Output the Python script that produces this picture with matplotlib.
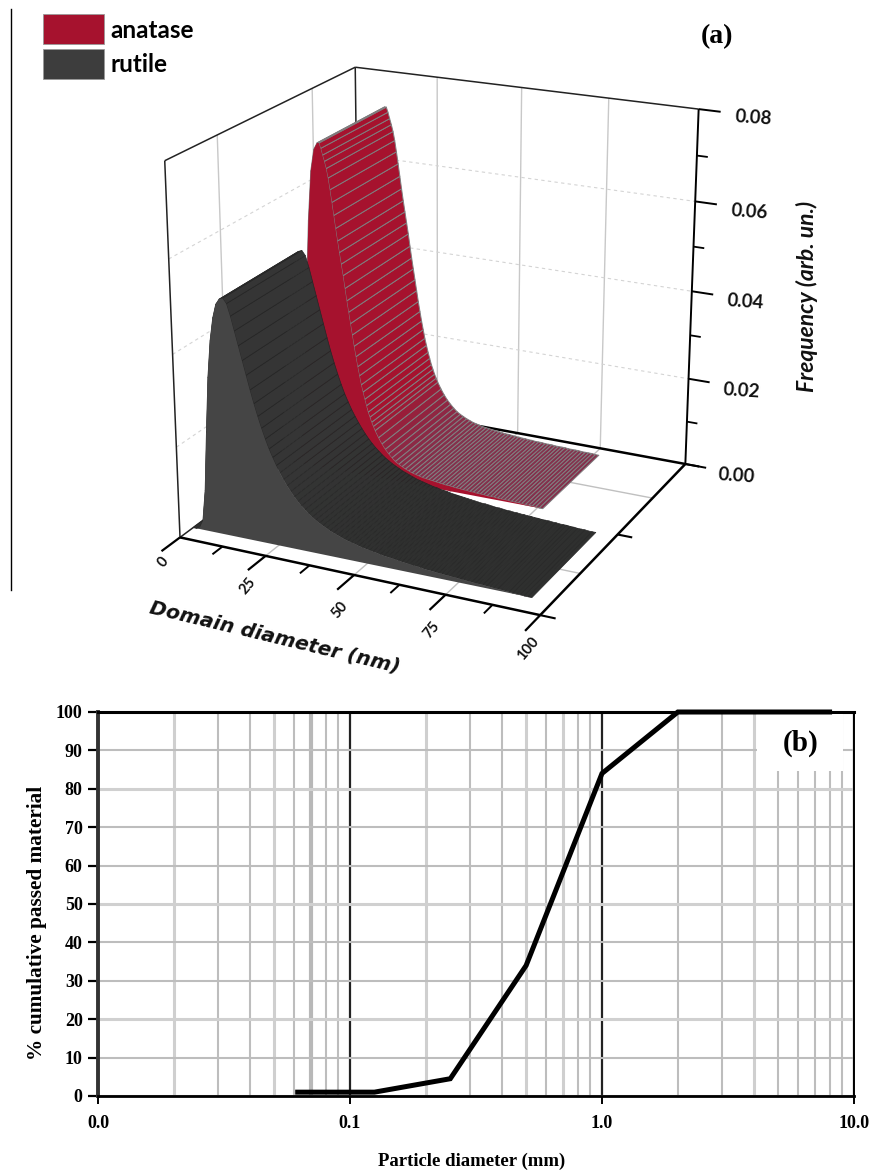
import numpy as np
import matplotlib
matplotlib.use("Agg")
import matplotlib.pyplot as plt
from matplotlib.colors import to_rgb
from matplotlib.patches import Rectangle
from matplotlib.lines import Line2D
from matplotlib.ticker import FixedLocator, FixedFormatter, NullFormatter
from mpl_toolkits.mplot3d.art3d import Poly3DCollection

# panel (a), domain size distributions
rutile_freq = [0, 0, .0003, .002, .009, .022, .034, .042, .047, .05,
               .0512, .0515, .0505, .048, .045, .042, .039, .036, .033, .0302,
               .0276, .0252, .023, .021, .0193, .0177, .0163, .015, .0138, .0127,
               .0117, .0108, .01, .0093, .0086, .008, .0075, .007, .0066, .0062,
               .0058, .0055, .0052, .0049, .0046, .0044, .0042, .004, .0038, .0036,
               .0035, .0033, .0032, .0031, .0029, .0028, .0027, .0026, .0025, .0024,
               .0023, .0022, .0021, .002, .002, .0019, .0018, .0017, .0017, .0016,
               .0015, .0015, .0014, .0014, .0013, .0013, .0012, .0012, .0011, .0011,
               .001, .001, .001, .0009, .0009, .0008, .0008, .0008, .0007, .0007,
               .0006, .0006, .0006, .0005, .0005, .0005]
anatase_diam = [0, 1, 2, 3, 4, 5, 6, 7, 8, 9, 10, 11, 12, 12.5, 13, 13.5, 14, 14.5, 15, 15.5,
                16, 16.5, 17, 17.5, 18, 18.5, 19, 19.5, 20, 20.5, 21, 21.5, 22, 22.5, 23, 23.5,
                24, 24.5, 25, 25.5, 26, 26.5, 27, 27.5, 28, 29, 30, 31, 32, 33, 34, 35, 36, 37,
                38, 39, 40, 41, 42, 43, 44, 45, 46, 47, 48, 49, 50, 51, 52, 53, 54, 55, 56, 57,
                58, 59, 60, 61, 62, 63, 64, 65, 66, 67, 68, 69, 70, 71, 72, 73, 74, 75, 76, 77]
anatase_freq = [0, 0, 0, .0001, .0005, .002, .0075, .02, .039, .056, .067, .0718,
                .0733, .0733, .0722, .0708, .0695, .068, .066, .0635, .0608, .058, .0552, .0525,
                .05, .0475, .045, .0422, .0395, .037, .0345, .032, .0295, .0272, .025, .023,
                .021, .0194, .0178, .0164, .015, .0139, .0128, .0119, .011, .0095, .0082, .0071,
                .0062, .0054, .0047, .0042, .0038, .0034, .0031, .0028, .0026, .0024, .0022, .0021,
                .002, .0019, .0018, .0017, .0016, .0015, .0015, .0014, .0013, .0013, .0012, .0012,
                .0011, .0011, .001, .001, .001, .0009, .0009, .0009, .0008, .0008, .0008, .0008,
                .0007, .0007, .0007, .0007, .0006, .0006, .0006, .0006, .0005, .0005]
rutile_depth = [.065, .475]
anatase_depth = [.55, .94]
diam_ticks = [0, 25, 50, 75, 100]
diam_minor = [12.5, 37.5, 62.5, 87.5]
depth_grid = [.25, .75]
freq_ticks = [0, .02, .04, .06, .08]
freq_minor = [.01, .03, .05, .07]

# panel (b), sieve curve
size_mm = [0.062, 0.125, 0.25, 0.5, 1.0, 2.0, 4.0, 8.0]
passed = [1, 1, 4.5, 34, 84, 100, 100, 100]
size_ticks = [0.01, 0.1, 1, 10]
size_labels = ["0.0", "0.1", "1.0", "10.0"]
size_minor = [.02, .03, .04, .05, .06, .07, .08, .09, .2, .3, .4, .5, .6, .7, .8, .9,
              2, 3, 4, 5, 6, 7, 8, 9]
pct_ticks = list(range(0, 101, 10))

W, H = 870, 1172
fig = plt.figure(figsize=(W/100, H/100), dpi=100, facecolor="white")
SANS = "Lato"
SERIF = "Liberation Serif"


def ptext(x, y, s, **kw):
    kw.setdefault("ha", "center")
    kw.setdefault("va", "center")
    fig.text(x/W, 1-y/H, s, **kw)


# ---- panel a
ax = fig.add_axes([81.7/W, 1-681.2/H, 700/W, 700/H], projection="3d", computed_zorder=False)
ax.set_proj_type("persp", focal_length=0.652)
ax.view_init(elev=20.344, azim=-64.426)
ax.set_box_aspect((1, .995, 1), zoom=.934)
ax.set_xlim(0, 100)
ax.set_ylim(0, 1)
ax.set_zlim(0, .08)
ax.set_axis_off()
ax.patch.set_alpha(0)


def seg(xs, ys, zs, **kw):
    ax.plot(xs, ys, zs, solid_capstyle="butt", **kw)


# walls and floor
for v in diam_ticks[1:-1]:
    seg([v, v], [1, 1], [0, .08], color="#c8c8c8", lw=1, zorder=1)
    seg([v, v], [0, 1], [0, 0], color="#c0c0c0", lw=1, zorder=1)
for v in depth_grid:
    seg([0, 0], [v, v], [0, .08], color="#c8c8c8", lw=1, zorder=1)
    seg([0, 100], [v, v], [0, 0], color="#c0c0c0", lw=1, zorder=1)
for v in freq_ticks[1:-1]:
    seg([0, 0], [0, 1], [v, v], color="#d4d4d4", lw=.8, ls=(0, (3, 3)), zorder=1)
    seg([0, 100], [1, 1], [v, v], color="#d4d4d4", lw=.8, ls=(0, (3, 3)), zorder=1)
seg([0, 0], [0, 0], [0, .08], color="#222222", lw=1.1, zorder=1)
seg([0, 0], [0, 1], [.08, .08], color="#222222", lw=1.1, zorder=1)
seg([0, 100], [1, 1], [.08, .08], color="#222222", lw=1.1, zorder=1)
seg([0, 0], [1, 1], [0, .08], color="#222222", lw=1.1, zorder=1)
seg([0, 0], [0, 1], [0, 0], color="#222222", lw=1.1, zorder=1)
seg([0, 100], [1, 1], [0, 0], color="black", lw=1.8, zorder=2)


def ridge(diam, freq, depth, top, tail, edge, side, lw, z):
    xs = np.array(diam)
    zs = np.array(freq)
    X = np.vstack([xs, xs])
    Y = np.vstack([np.full(len(xs), depth[0]), np.full(len(xs), depth[1])])
    Z = np.vstack([zs, zs])
    surf = ax.plot_surface(X, Y, Z, rstride=1, cstride=1, color=top, edgecolor=edge,
                           linewidth=lw, shade=False, zorder=z)
    # the low tail of the strip fades to a greyer colour
    mix = np.clip((.014-zs[1:])/.012, 0, 1)[:, None]
    surf.set_facecolor((1-mix)*np.array(to_rgb(top)) + mix*np.array(to_rgb(tail)))
    near = Poly3DCollection([list(zip(xs, np.full(len(xs), depth[0]), zs))],
                            facecolor=side, edgecolor="none", zorder=z+1)
    ax.add_collection3d(near)


ridge(anatase_diam, anatase_freq, anatase_depth, "#a6122e", "#84304c", "#7f7f80", "#a6122e", .7, 3)
ridge(range(len(rutile_freq)), rutile_freq, rutile_depth, "#353535", "#2f302f", "#262626", "#454545", .5, 5)

# front axes and ticks
seg([0, 100], [0, 0], [0, 0], color="black", lw=1.8, zorder=8)
seg([100, 100], [0, 1], [0, 0], color="black", lw=1.8, zorder=8)
seg([100, 100], [1, 1], [0, .08], color="black", lw=1.4, zorder=8)
for v in diam_ticks:
    seg([v, v], [0, -.09], [0, 0], color="black", lw=1.6, zorder=8)
for v in diam_minor:
    seg([v, v], [0, -.05], [0, 0], color="black", lw=1.4, zorder=8)
for v in [0, .5, 1]:
    seg([100, 104], [v, v], [0, 0], color="black", lw=1.5, zorder=8)
for v in freq_ticks:
    seg([100, 106], [1, 1], [v, v], color="black", lw=1.4, zorder=8)
for v in freq_minor:
    seg([100, 103], [1, 1], [v, v], color="black", lw=1.3, zorder=8)

# labels of panel a, placed on the page
tick_px = [(163, 562), (248, 586), (340, 610), (432, 630), (528, 649)]
for (x, y), v in zip(tick_px, diam_ticks):
    ptext(x, y, str(v), family=SANS, weight="bold", fontsize=10.5, rotation=50, color="#111111")
ptext(275, 637, "Domain diameter (nm)", family="DejaVu Sans", weight="bold", style="italic",
      fontsize=14.5, rotation=-13.5, color="#111111")
ptext(807, 296, "Frequency (arb. un.)", family=SANS, weight="bold", style="italic",
      fontsize=16.5, rotation=90, color="#111111")
for (x, y), v in zip([(736, 476), (741, 391), (745, 302), (749, 212), (753, 118)], freq_ticks):
    ptext(x, y, f"{v:.2f}", family=SANS, weight="bold", fontsize=13.5, rotation=-4, color="#111111")

fig.add_artist(Rectangle((43/W, 1-44/H), 61/W, 30/H, facecolor="#a6122e", edgecolor="#999999", lw=.6))
fig.add_artist(Rectangle((43/W, 1-79/H), 61/W, 30/H, facecolor="#3d3d3d", edgecolor="#999999", lw=.6))
ptext(110, 31, "anatase", ha="left", family=SANS, weight="bold", fontsize=17.5)
ptext(110, 64, "rutile", ha="left", family=SANS, weight="bold", fontsize=17.5)
ptext(717, 37, "(a)", family=SERIF, weight="bold", fontsize=20)
fig.add_artist(Line2D([11.5/W, 11.5/W], [1-9/H, 1-590/H], color="black", lw=1))

# ---- panel b
ax2 = fig.add_axes([98/W, 1-1096/H, (854-98)/W, (1096-712)/H])
ax2.set_xscale("log")
ax2.set_xlim(0.01, 10)
ax2.set_ylim(0, 100)
ax2.xaxis.set_major_locator(FixedLocator(size_ticks))
ax2.xaxis.set_major_formatter(FixedFormatter(size_labels))
ax2.xaxis.set_minor_locator(FixedLocator(size_minor))
ax2.xaxis.set_minor_formatter(NullFormatter())
ax2.set_yticks(pct_ticks)
ax2.grid(True, which="minor", axis="x", color="#bdbdbd", lw=1.5)
ax2.grid(True, which="major", axis="y", color="#bdbdbd", lw=1.5)
ax2.grid(True, which="major", axis="x", color="#222222", lw=1.6)
for tick, v in zip(ax2.xaxis.get_minor_ticks(), size_minor):
    if v in (.02, .05, .2, .5, .7, 4):
        tick.gridline.set_linewidth(2.2)
        tick.gridline.set_color("#cfcfcf")
    if v == .07:
        tick.gridline.set_linewidth(3)
        tick.gridline.set_color("#b8b8b8")
for tick, v in zip(ax2.yaxis.get_major_ticks(), pct_ticks):
    if v in (20, 50, 80):
        tick.gridline.set_linewidth(2.2)
        tick.gridline.set_color("#d0d0d0")
ax2.set_axisbelow(True)
ax2.plot(size_mm, passed, color="black", lw=3.6, zorder=4, solid_joinstyle="miter", clip_on=False)
ax2.add_patch(Rectangle((757, 1172-771), 86, 57, transform=None, facecolor="white",
                        edgecolor="none", zorder=3))
ax2.spines["left"].set_linewidth(2.8)
ax2.spines["left"].set_color("#333333")
ax2.spines["top"].set_linewidth(2.2)
ax2.spines["bottom"].set_linewidth(2)
ax2.spines["right"].set_linewidth(1.4)
ax2.tick_params(axis="y", which="major", length=7, width=1.6, pad=4, labelsize=13)
ax2.tick_params(axis="x", which="major", length=6, width=1.4, pad=8, labelsize=13)
ax2.tick_params(axis="x", which="minor", length=0)
for t in ax2.get_xticklabels() + ax2.get_yticklabels():
    t.set_family(SERIF)
    t.set_weight("bold")
ptext(472, 1161, "Particle diameter (mm)", family=SERIF, weight="bold", fontsize=13.5)
ptext(37, 923, "% cumulative passed material", family=SERIF, weight="bold", fontsize=15.3, rotation=90)
ptext(801, 743, "(b)", family=SERIF, weight="bold", fontsize=21)

fig.savefig("out.png", dpi=100)
